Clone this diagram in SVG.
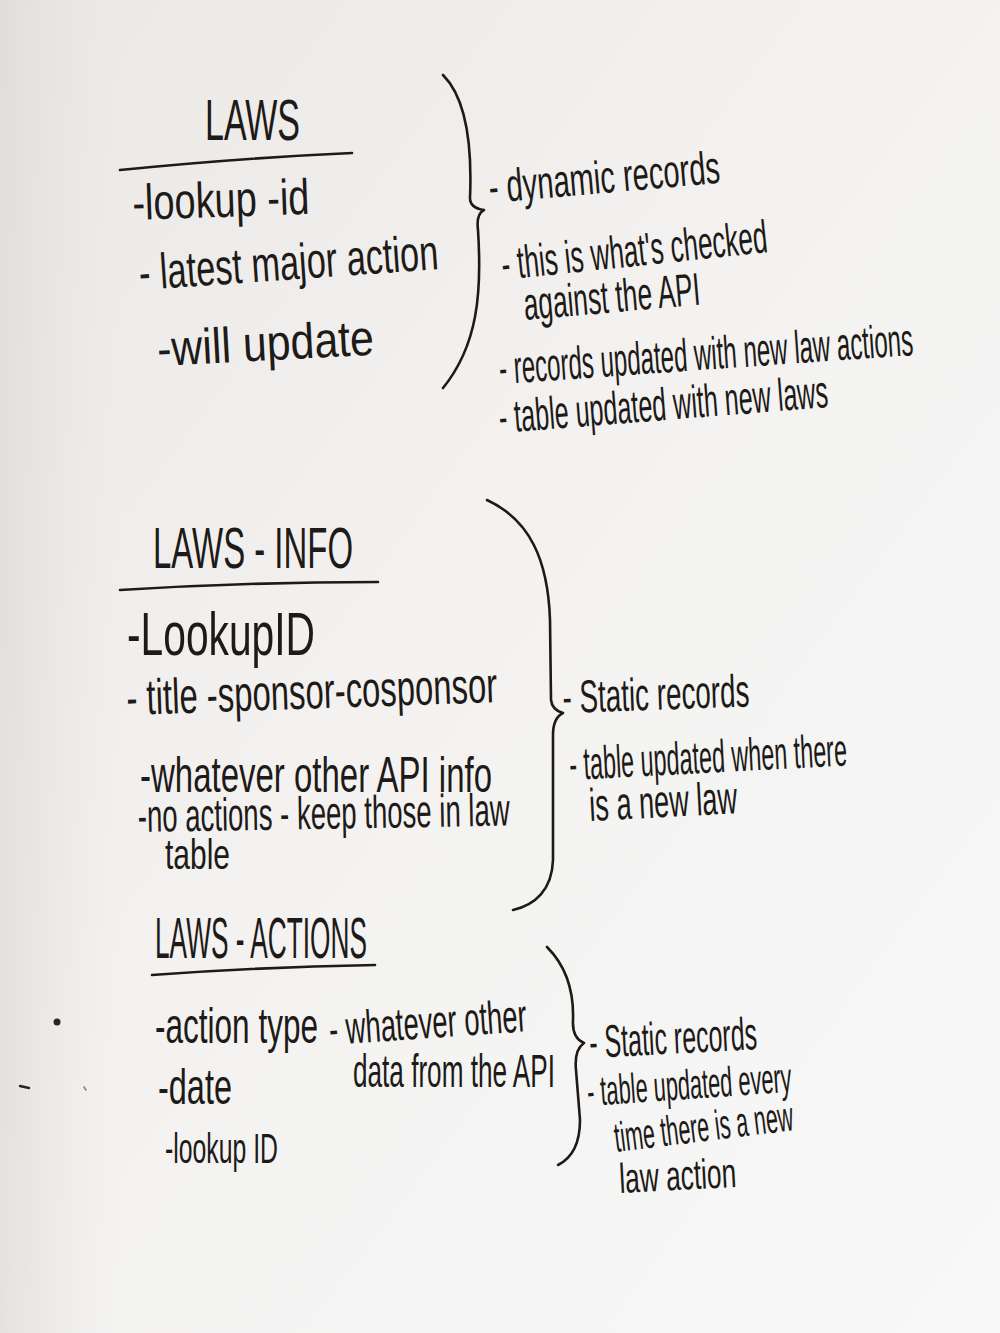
<svg xmlns="http://www.w3.org/2000/svg" width="1000" height="1333" viewBox="0 0 1000 1333">
  <defs>
    <linearGradient id="board" x1="0" y1="0" x2="1" y2="1">
      <stop offset="0" stop-color="#ebe8e5"/>
      <stop offset="0.45" stop-color="#f3f2f1"/>
      <stop offset="1" stop-color="#f8f8f8"/>
    </linearGradient>
    <linearGradient id="edge" x1="0" y1="0" x2="1" y2="0">
      <stop offset="0" stop-color="#d9d7d5" stop-opacity="0.6"/>
      <stop offset="0.12" stop-color="#e6e4e2" stop-opacity="0"/>
    </linearGradient>
    <style>
      .ink { font-family: "Liberation Sans", "DejaVu Sans", sans-serif; fill: #1d1a18; }
      .head { font-size: 58px; }
      .item { font-size: 50px; }
      .note { font-size: 46px; }
      .small { font-size: 42px; }
      .pen { fill: none; stroke: #1d1a18; stroke-width: 2.6; stroke-linecap: round; stroke-linejoin: round; }
    </style>
  </defs>

  <!-- whiteboard surface -->
  <rect x="0" y="0" width="1000" height="1333" fill="url(#board)"/>
  <rect x="0" y="0" width="1000" height="1333" fill="url(#edge)"/>

  <!-- laws table -->
  <g id="laws">
    <text class="ink head" x="205" y="140" textLength="95" lengthAdjust="spacingAndGlyphs">LAWS</text>
    <path class="pen" d="M120,170 Q240,158 352,153"/>
    <text class="ink item" font-size="54" x="133" y="220" textLength="177" lengthAdjust="spacingAndGlyphs" transform="rotate(-2 133 220)">-lookup -id</text>
    <text class="ink item" x="140" y="290" textLength="300" lengthAdjust="spacingAndGlyphs" transform="rotate(-4 140 290)">- latest major action</text>
    <text class="ink item" x="158" y="366" textLength="217" lengthAdjust="spacingAndGlyphs" transform="rotate(-3 158 366)">-will update</text>
  </g>

  <!-- notes for laws -->
  <g id="laws-notes">
    <text class="ink note" x="490" y="203" textLength="232" lengthAdjust="spacingAndGlyphs" transform="rotate(-5 490 203)">- dynamic records</text>
    <text class="ink note" x="503" y="280" textLength="267" lengthAdjust="spacingAndGlyphs" transform="rotate(-6 503 280)">- this is what's checked</text>
    <text class="ink note" x="525" y="320" textLength="177" lengthAdjust="spacingAndGlyphs" transform="rotate(-5 525 320)">against the API</text>
    <text class="ink note" x="500" y="384" textLength="415" lengthAdjust="spacingAndGlyphs" transform="rotate(-4 500 384)">- records updated with new law actions</text>
    <text class="ink note" x="500" y="433" textLength="330" lengthAdjust="spacingAndGlyphs" transform="rotate(-4.5 500 433)">- table updated with new laws</text>
  </g>

  <!-- laws-info table -->
  <g id="laws-info">
    <text class="ink head" x="153" y="568" textLength="200" lengthAdjust="spacingAndGlyphs">LAWS - INFO</text>
    <path class="pen" d="M120,590 Q250,582 378,582"/>
    <text class="ink" font-size="62" x="127" y="655" textLength="188" lengthAdjust="spacingAndGlyphs">-LookupID</text>
    <text class="ink item" x="127" y="715" textLength="371" lengthAdjust="spacingAndGlyphs" transform="rotate(-2 127 715)">- title  -sponsor-cosponsor</text>
    <text class="ink item" font-size="54" x="140" y="792" textLength="352" lengthAdjust="spacingAndGlyphs">-whatever other API info</text>
    <text class="ink note" x="138" y="832" textLength="372" lengthAdjust="spacingAndGlyphs" transform="rotate(-1 138 832)">-no actions - keep those in law</text>
    <text class="ink" font-size="42" x="165" y="869" textLength="65" lengthAdjust="spacingAndGlyphs">table</text>
  </g>

  <!-- notes for laws-info -->
  <g id="laws-info-notes">
    <text class="ink note" x="563" y="713" textLength="187" lengthAdjust="spacingAndGlyphs" transform="rotate(-2 563 713)">- Static records</text>
    <text class="ink note" x="570" y="780" textLength="278" lengthAdjust="spacingAndGlyphs" transform="rotate(-3 570 780)">- table updated when there</text>
    <text class="ink note" x="590" y="821" textLength="148" lengthAdjust="spacingAndGlyphs" transform="rotate(-3 590 821)">is a new law</text>
  </g>

  <!-- laws-actions table -->
  <g id="laws-actions">
    <text class="ink head" x="155" y="958" textLength="212" lengthAdjust="spacingAndGlyphs">LAWS - ACTIONS</text>
    <path class="pen" d="M152,975 Q260,967 375,965"/>
    <text class="ink item" x="155" y="1043" textLength="163" lengthAdjust="spacingAndGlyphs">-action type</text>
    <text class="ink note" x="330" y="1045" textLength="198" lengthAdjust="spacingAndGlyphs" transform="rotate(-4 330 1045)">- whatever other</text>
    <text class="ink note" x="353" y="1087" textLength="202" lengthAdjust="spacingAndGlyphs">data from the API</text>
    <text class="ink item" x="158" y="1104" textLength="74" lengthAdjust="spacingAndGlyphs">-date</text>
    <text class="ink small" x="165" y="1163" textLength="113" lengthAdjust="spacingAndGlyphs">-lookup ID</text>
  </g>

  <!-- notes for laws-actions -->
  <g id="laws-actions-notes">
    <text class="ink note" x="590" y="1058" textLength="168" lengthAdjust="spacingAndGlyphs" transform="rotate(-3 590 1058)">- Static records</text>
    <text class="ink small" x="588" y="1106" textLength="205" lengthAdjust="spacingAndGlyphs" transform="rotate(-4 588 1106)">- table updated every</text>
    <text class="ink small" x="616" y="1152" textLength="180" lengthAdjust="spacingAndGlyphs" transform="rotate(-7 616 1152)">time there is a new</text>
    <text class="ink small" x="620" y="1193" textLength="117" lengthAdjust="spacingAndGlyphs" transform="rotate(-3 620 1193)">law action</text>
  </g>

  <!-- braces joining each table to its notes -->
  <g id="connectors">
    <path class="pen" d="M443,75 C468,100 472,150 470,198 Q470,208 484,210 Q476,214 478,230 C482,292 478,345 443,388"/>
    <path class="pen" d="M487,500 C530,520 548,560 550,620 L551,700 Q552,710 563,713 Q553,718 553,735 L553,860 C552,890 535,905 513,910"/>
    <path class="pen" d="M547,947 C565,965 574,990 573,1020 Q572,1038 584,1043 Q574,1050 576,1070 L580,1120 C580,1145 572,1158 558,1165"/>
  </g>

  <!-- stray marks on the board -->
  <g id="marks">
    <circle cx="57" cy="1022" r="3.5" fill="#2a2624"/>
    <path d="M20,1086 L29,1088" stroke="#2a2624" stroke-width="2.4" stroke-linecap="round"/>
    <path d="M84,1087 L86,1090" stroke="#8a8684" stroke-width="1.6" stroke-linecap="round"/>
  </g>
</svg>
